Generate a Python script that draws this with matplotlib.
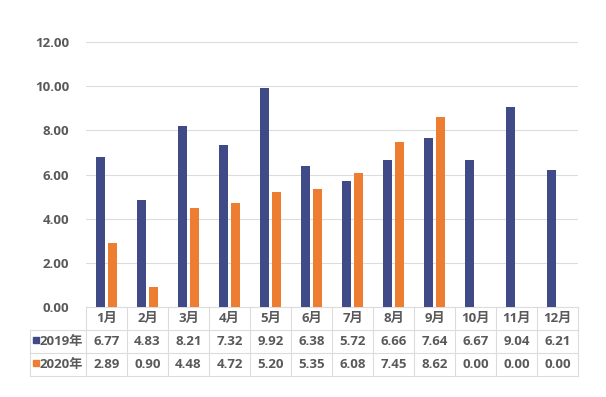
import matplotlib.pyplot as plt
import numpy as np
from matplotlib.patches import Rectangle

plt.rcParams['font.family'] = ['Open Sans', 'Noto Sans CJK SC', 'DejaVu Sans']

months = ["1月", "2月", "3月", "4月", "5月", "6月", "7月", "8月", "9月", "10月", "11月", "12月"]
series_names = ["2019年", "2020年"]
v2019 = [6.77, 4.83, 8.21, 7.32, 9.92, 6.38, 5.72, 6.66, 7.64, 6.67, 9.04, 6.21]
v2020 = [2.89, 0.90, 4.48, 4.72, 5.20, 5.35, 6.08, 7.45, 8.62, 0.00, 0.00, 0.00]
colors = ["#404A86", "#ED7D31"]
text_c = "#595959"
line_c = "#DCDCDC"

fig = plt.figure(figsize=(6.06, 3.97), dpi=100)
ax = fig.add_axes([86/606, 90/397, 492/606, 265/397])

x = np.arange(len(months))
w = 0.21
ax.bar(x - w/2 - 0.04, v2019, w, color=colors[0], zorder=3)
ax.bar(x + w/2 + 0.04, v2020, w, color=colors[1], zorder=3)

ax.set_xlim(-0.5, 11.5)
ax.set_ylim(0, 12)
ax.set_yticks(np.arange(0, 12.1, 2))
ax.set_yticklabels([f"{t:.2f}" for t in np.arange(0, 12.1, 2)], color=text_c,
                   fontsize=9.5, fontweight='bold')
ax.tick_params(axis='y', length=0, pad=12)
ax.set_xticks([])
ax.grid(axis='y', color=line_c, lw=0.8, zorder=0)
for s in ax.spines.values():
    s.set_visible(False)

# data table under the plot, in axes coordinates
trans = ax.transAxes
px = 1/492.0
py = 1/265.0
left = (30 - 86) * px
rows_y = [0, -23*py, -46*py, -69*py]
col_x = [left] + [i/12 for i in range(13)]

kw = dict(color=line_c, lw=0.8, transform=trans, clip_on=False)
ax.plot([0, 1], [rows_y[0], rows_y[0]], **kw)
for yy in rows_y[1:]:
    ax.plot([left, 1], [yy, yy], **kw)
ax.plot([left, left], [rows_y[1], rows_y[3]], **kw)
for xx in col_x[1:]:
    ax.plot([xx, xx], [rows_y[0], rows_y[3]], **kw)

tkw = dict(transform=trans, ha='center', va='center', color=text_c,
           fontsize=9.5, fontweight='bold', clip_on=False)
for i, m in enumerate(months):
    cx = (i + 0.5) / 12
    ax.text(cx, (rows_y[0] + rows_y[1]) / 2, m, **tkw)
    ax.text(cx, (rows_y[1] + rows_y[2]) / 2, f"{v2019[i]:.2f}", **tkw)
    ax.text(cx, (rows_y[2] + rows_y[3]) / 2, f"{v2020[i]:.2f}", **tkw)

for r, (name, c) in enumerate(zip(series_names, colors)):
    cy = (rows_y[r + 1] + rows_y[r + 2]) / 2
    ax.add_patch(Rectangle((left + 3*px, cy - 1*py), 6*px, 6*py, color=c,
                           transform=trans, clip_on=False))
    ax.text(left + 10*px, cy, name, transform=trans, ha='left', va='center',
            color=text_c, fontsize=9.5, fontweight='bold', clip_on=False)

fig.savefig("out.png", dpi=100)
